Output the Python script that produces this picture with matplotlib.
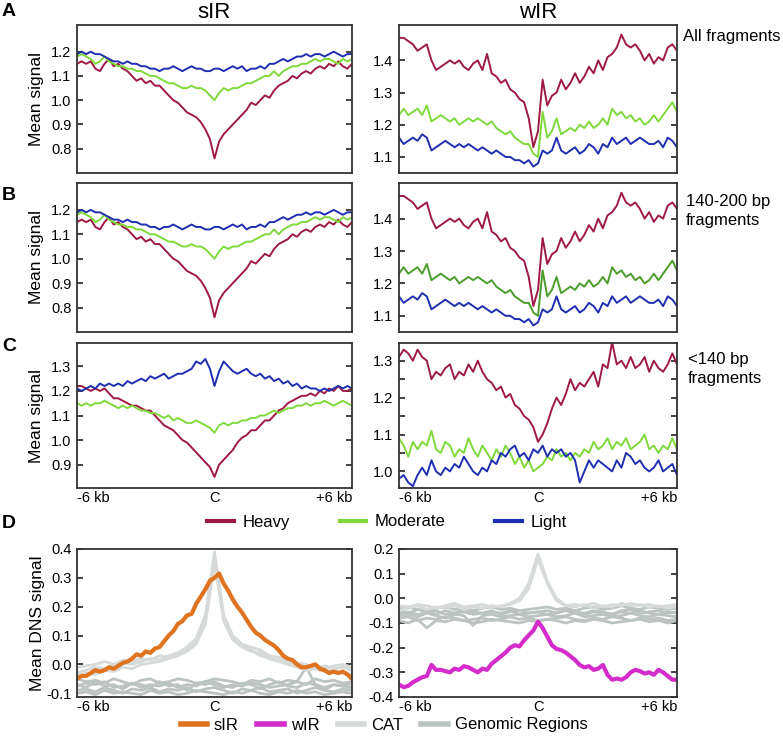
import numpy as np
import matplotlib.pyplot as plt
from matplotlib.lines import Line2D

plt.rcParams['font.family'] = ['Liberation Sans', 'DejaVu Sans']

# ---- colours
c_heavy = '#9e1a44'
c_mod = '#80d93b'
c_mod_dark = '#4c9c2b'
c_light = '#1f2fb0'
c_sir = '#df7320'
c_wir = '#d42ccb'
c_cat = '#d6dad9'
c_gen = '#bcc4c2'

# ---- sIR, all fragments (same profiles in row B)
sir_heavy = [1.15, 1.16, 1.15, 1.16, 1.13, 1.12, 1.15, 1.17, 1.14, 1.15, 1.13, 1.12, 1.10, 1.08, 1.09, 1.07,
             1.08, 1.06, 1.06, 1.04, 1.02, 1.00, 0.99, 0.97, 0.95, 0.94, 0.93, 0.91, 0.88, 0.84, 0.76,
             0.83, 0.86, 0.88, 0.90, 0.92, 0.94, 0.96, 0.99, 0.98, 1.00, 1.02, 1.01, 1.04, 1.06, 1.07,
             1.08, 1.10, 1.09, 1.11, 1.12, 1.11, 1.13, 1.14, 1.13, 1.15, 1.14, 1.16, 1.14, 1.13, 1.15]
sir_mod = [1.18, 1.19, 1.18, 1.17, 1.15, 1.16, 1.18, 1.16, 1.15, 1.14, 1.14, 1.13, 1.13, 1.12, 1.12, 1.11,
           1.10, 1.10, 1.09, 1.08, 1.07, 1.07, 1.06, 1.05, 1.05, 1.06, 1.05, 1.05, 1.04, 1.02, 1.00,
           1.03, 1.05, 1.04, 1.05, 1.05, 1.06, 1.07, 1.07, 1.08, 1.09, 1.10, 1.10, 1.12, 1.10, 1.12,
           1.13, 1.14, 1.14, 1.15, 1.15, 1.16, 1.17, 1.16, 1.17, 1.17, 1.16, 1.15, 1.17, 1.16, 1.17]
sir_light = [1.19, 1.20, 1.19, 1.20, 1.19, 1.19, 1.18, 1.17, 1.16, 1.16, 1.15, 1.16, 1.15, 1.15, 1.14, 1.14,
             1.13, 1.13, 1.12, 1.13, 1.13, 1.14, 1.13, 1.12, 1.13, 1.14, 1.13, 1.13, 1.12, 1.12, 1.13,
             1.13, 1.12, 1.13, 1.14, 1.13, 1.14, 1.12, 1.13, 1.13, 1.14, 1.13, 1.15, 1.15, 1.16, 1.17,
             1.16, 1.17, 1.18, 1.18, 1.19, 1.18, 1.19, 1.19, 1.18, 1.19, 1.20, 1.19, 1.18, 1.19, 1.19]

# ---- wIR, all fragments (same profiles in row B)
wir_heavy = [1.47, 1.47, 1.46, 1.45, 1.43, 1.44, 1.45, 1.40, 1.37, 1.38, 1.39, 1.40, 1.39, 1.40, 1.38, 1.37,
             1.39, 1.40, 1.37, 1.42, 1.36, 1.35, 1.33, 1.34, 1.31, 1.30, 1.28, 1.27, 1.22, 1.13, 1.18,
             1.34, 1.26, 1.29, 1.30, 1.34, 1.31, 1.33, 1.36, 1.33, 1.35, 1.38, 1.36, 1.40, 1.37, 1.41,
             1.42, 1.44, 1.48, 1.45, 1.44, 1.45, 1.43, 1.40, 1.42, 1.39, 1.41, 1.40, 1.44, 1.45, 1.43]
wir_mod = [1.23, 1.25, 1.23, 1.24, 1.25, 1.23, 1.26, 1.21, 1.22, 1.23, 1.22, 1.21, 1.22, 1.20, 1.21, 1.22,
           1.21, 1.22, 1.21, 1.20, 1.21, 1.19, 1.18, 1.17, 1.18, 1.16, 1.15, 1.14, 1.14, 1.11, 1.10,
           1.24, 1.16, 1.18, 1.22, 1.17, 1.18, 1.19, 1.18, 1.20, 1.19, 1.21, 1.19, 1.20, 1.22, 1.20,
           1.25, 1.23, 1.24, 1.22, 1.23, 1.21, 1.22, 1.20, 1.21, 1.23, 1.21, 1.23, 1.25, 1.27, 1.24]
wir_light = [1.16, 1.14, 1.15, 1.16, 1.15, 1.17, 1.16, 1.12, 1.13, 1.14, 1.15, 1.14, 1.13, 1.14, 1.13, 1.14,
             1.13, 1.12, 1.13, 1.12, 1.11, 1.12, 1.11, 1.10, 1.10, 1.09, 1.09, 1.08, 1.09, 1.07, 1.08,
             1.12, 1.11, 1.12, 1.16, 1.12, 1.11, 1.12, 1.13, 1.11, 1.12, 1.14, 1.13, 1.11, 1.14, 1.13,
             1.16, 1.14, 1.15, 1.16, 1.14, 1.15, 1.16, 1.15, 1.14, 1.14, 1.15, 1.13, 1.16, 1.15, 1.13]

# ---- <140 bp fragments
sir_heavy_s = [1.22, 1.22, 1.21, 1.20, 1.21, 1.20, 1.21, 1.19, 1.17, 1.17, 1.16, 1.15, 1.14, 1.14, 1.13, 1.12,
               1.12, 1.10, 1.08, 1.06, 1.05, 1.04, 1.02, 1.00, 0.99, 0.97, 0.95, 0.93, 0.91, 0.89, 0.85,
               0.90, 0.92, 0.94, 0.96, 0.99, 1.01, 1.02, 1.04, 1.04, 1.06, 1.08, 1.08, 1.10, 1.12, 1.13,
               1.15, 1.16, 1.17, 1.18, 1.18, 1.19, 1.18, 1.20, 1.19, 1.21, 1.20, 1.22, 1.20, 1.20, 1.21]
sir_mod_s = [1.15, 1.14, 1.15, 1.14, 1.15, 1.15, 1.16, 1.15, 1.14, 1.13, 1.14, 1.13, 1.14, 1.13, 1.12, 1.12,
             1.11, 1.11, 1.10, 1.09, 1.10, 1.08, 1.09, 1.08, 1.07, 1.07, 1.08, 1.07, 1.06, 1.05, 1.03,
             1.06, 1.07, 1.06, 1.07, 1.07, 1.08, 1.08, 1.09, 1.09, 1.10, 1.10, 1.11, 1.12, 1.11, 1.12,
             1.13, 1.13, 1.14, 1.14, 1.15, 1.14, 1.15, 1.15, 1.16, 1.15, 1.14, 1.15, 1.16, 1.15, 1.14]
sir_light_s = [1.21, 1.20, 1.21, 1.22, 1.21, 1.23, 1.22, 1.23, 1.22, 1.23, 1.22, 1.24, 1.23, 1.24, 1.25, 1.24,
               1.26, 1.25, 1.26, 1.27, 1.25, 1.26, 1.27, 1.27, 1.28, 1.29, 1.32, 1.31, 1.33, 1.29, 1.22,
               1.28, 1.32, 1.30, 1.28, 1.27, 1.28, 1.29, 1.27, 1.26, 1.27, 1.25, 1.26, 1.24, 1.25, 1.23,
               1.24, 1.22, 1.23, 1.21, 1.22, 1.21, 1.21, 1.20, 1.21, 1.20, 1.21, 1.22, 1.21, 1.22, 1.21]
wir_heavy_s = [1.31, 1.33, 1.32, 1.30, 1.33, 1.31, 1.30, 1.25, 1.27, 1.26, 1.28, 1.29, 1.25, 1.27, 1.26, 1.29,
               1.27, 1.30, 1.27, 1.25, 1.24, 1.22, 1.23, 1.20, 1.21, 1.18, 1.17, 1.15, 1.14, 1.12, 1.08,
               1.10, 1.13, 1.17, 1.20, 1.18, 1.21, 1.25, 1.22, 1.24, 1.23, 1.25, 1.27, 1.23, 1.29, 1.28,
               1.35, 1.29, 1.30, 1.28, 1.31, 1.28, 1.29, 1.31, 1.27, 1.30, 1.28, 1.27, 1.29, 1.32, 1.29]
wir_mod_s = [1.09, 1.07, 1.04, 1.08, 1.06, 1.08, 1.07, 1.11, 1.06, 1.05, 1.08, 1.07, 1.04, 1.06, 1.05, 1.09,
             1.06, 1.04, 1.07, 1.05, 1.03, 1.06, 1.04, 1.07, 1.05, 1.02, 1.04, 1.01, 1.03, 1.00, 1.01,
             1.02, 1.04, 1.03, 1.06, 1.04, 1.05, 1.03, 1.05, 1.04, 1.06, 1.05, 1.08, 1.06, 1.07, 1.09,
             1.06, 1.08, 1.07, 1.09, 1.06, 1.07, 1.08, 1.10, 1.06, 1.07, 1.05, 1.07, 1.06, 1.09, 1.06]
wir_light_s = [0.98, 0.99, 0.97, 0.96, 0.99, 1.01, 0.99, 1.03, 1.00, 0.99, 1.01, 1.00, 1.02, 1.01, 1.04, 1.02,
               1.00, 0.99, 1.01, 1.00, 1.03, 1.02, 1.05, 1.04, 1.06, 1.07, 1.04, 1.05, 1.03, 1.06, 1.05,
               1.07, 1.04, 1.06, 1.05, 1.06, 1.04, 1.05, 1.03, 0.97, 1.00, 1.03, 1.01, 1.03, 1.02, 1.01,
               1.00, 1.03, 1.01, 1.05, 1.04, 1.02, 1.03, 1.01, 1.00, 1.01, 1.03, 1.00, 1.01, 1.02, 0.99]

# ---- DNS signal
dns_sir = [-0.05, -0.04, -0.04, -0.03, -0.02, -0.025, -0.02, -0.01, -0.015, -0.005, 0.005, 0.01, 0.02, 0.035,
           0.03, 0.045, 0.04, 0.055, 0.06, 0.08, 0.10, 0.115, 0.14, 0.15, 0.17, 0.175, 0.21, 0.235, 0.26,
           0.29, 0.30, 0.315, 0.28, 0.255, 0.225, 0.20, 0.18, 0.155, 0.13, 0.11, 0.10, 0.085, 0.075, 0.065,
           0.05, 0.03, 0.02, 0.015, 0.0, -0.01, -0.01, -0.005, 0.0, -0.015, -0.02, -0.03, -0.025, -0.03,
           -0.025, -0.035, -0.05]
dns_wir = [-0.35, -0.36, -0.355, -0.34, -0.33, -0.32, -0.315, -0.27, -0.29, -0.29, -0.295, -0.30, -0.285,
           -0.29, -0.275, -0.28, -0.29, -0.30, -0.285, -0.29, -0.265, -0.25, -0.235, -0.22, -0.20, -0.19,
           -0.195, -0.17, -0.15, -0.13, -0.095, -0.12, -0.155, -0.19, -0.205, -0.21, -0.22, -0.235, -0.25,
           -0.27, -0.28, -0.275, -0.29, -0.285, -0.27, -0.31, -0.33, -0.325, -0.33, -0.32, -0.30, -0.29,
           -0.295, -0.305, -0.30, -0.31, -0.29, -0.30, -0.315, -0.33, -0.33]

cat_left = [
    [-0.03, -0.02, -0.01, -0.015, 0.0, 0.005, 0.0, 0.01, 0.02, 0.015, 0.03, 0.04, 0.06, 0.09, 0.17, 0.39,
     0.17, 0.10, 0.07, 0.06, 0.05, 0.03, 0.025, 0.015, 0.005, 0.0, -0.01, -0.005, -0.015, -0.01, -0.02],
    [-0.01, -0.005, 0.0, 0.01, 0.0, 0.015, 0.01, 0.02, 0.015, 0.03, 0.025, 0.035, 0.05, 0.08, 0.16, 0.37,
     0.15, 0.085, 0.06, 0.045, 0.04, 0.02, 0.015, 0.005, -0.005, -0.01, 0.0, -0.015, -0.005, 0.0, -0.01],
    [-0.04, -0.03, -0.035, -0.02, -0.025, -0.01, -0.015, 0.0, 0.005, 0.01, 0.02, 0.03, 0.045, 0.07, 0.14,
     0.35, 0.16, 0.09, 0.065, 0.05, 0.03, 0.02, 0.01, 0.0, -0.01, -0.02, -0.015, -0.025, -0.02, -0.03, -0.035],
]
gen_left = [
    [-0.07, -0.08, -0.06, -0.075, -0.07, -0.085, -0.065, -0.07, -0.08, -0.06, -0.075, -0.07, -0.09, -0.065,
     -0.07, -0.06, -0.075, -0.08, -0.065, -0.07, -0.085, -0.07, -0.06, -0.075, -0.08, -0.065, -0.07, -0.09,
     -0.07, -0.075, -0.065],
    [-0.09, -0.085, -0.095, -0.08, -0.09, -0.10, -0.085, -0.09, -0.08, -0.095, -0.085, -0.09, -0.08, -0.095,
     -0.085, -0.08, -0.09, -0.10, -0.085, -0.09, -0.08, -0.095, -0.09, -0.085, -0.10, -0.09, -0.08, -0.09,
     -0.095, -0.085, -0.09],
    [-0.05, -0.06, -0.055, -0.065, -0.05, -0.06, -0.07, -0.055, -0.05, -0.065, -0.06, -0.05, -0.055, -0.065,
     -0.06, -0.05, -0.055, -0.06, -0.07, -0.055, -0.06, -0.05, -0.065, -0.055, -0.06, -0.07, -0.05, -0.06,
     -0.055, -0.065, -0.06],
    [-0.10, -0.095, -0.105, -0.09, -0.10, -0.095, -0.10, -0.105, -0.09, -0.10, -0.095, -0.105, -0.10, -0.09,
     -0.095, -0.10, -0.105, -0.095, -0.10, -0.09, -0.10, -0.105, -0.095, -0.10, -0.09, -0.10, -0.095, -0.105,
     -0.10, -0.095, -0.10],
    [-0.075, -0.065, -0.07, -0.06, -0.08, -0.075, -0.065, -0.08, -0.07, -0.075, -0.065, -0.08, -0.07, -0.075,
     -0.06, -0.07, -0.08, -0.07, -0.075, -0.065, -0.07, -0.08, -0.075, -0.07, -0.06, -0.01, -0.07, -0.08,
     -0.07, -0.075, -0.08],
]
cat_right = [
    [-0.05, -0.04, -0.03, -0.045, -0.035, -0.04, -0.03, -0.045, -0.035, -0.04, -0.03, -0.035, -0.02, 0.0,
     0.06, 0.18, 0.07, 0.0, -0.03, -0.035, -0.025, -0.04, -0.03, -0.035, -0.02, -0.03, -0.025, -0.035, -0.03,
     -0.04, -0.035],
    [-0.03, -0.035, -0.025, -0.03, -0.04, -0.03, -0.02, -0.035, -0.03, -0.025, -0.035, -0.03, -0.025, -0.01,
     0.04, 0.16, 0.06, -0.01, -0.03, -0.025, -0.03, -0.02, -0.035, -0.025, -0.03, -0.02, -0.03, -0.025,
     -0.035, -0.03, -0.025],
]
gen_right = [
    [-0.05, -0.06, -0.045, -0.055, -0.065, -0.05, -0.06, -0.045, -0.055, -0.06, -0.05, -0.065, -0.055, -0.05,
     -0.06, -0.055, -0.05, -0.06, -0.045, -0.055, -0.06, -0.05, -0.055, -0.065, -0.05, -0.045, -0.06, -0.055,
     -0.05, -0.06, -0.055],
    [-0.08, -0.075, -0.09, -0.08, -0.085, -0.075, -0.08, -0.09, -0.085, -0.08, -0.09, -0.085, -0.075, -0.085,
     -0.08, -0.09, -0.085, -0.08, -0.075, -0.085, -0.09, -0.08, -0.085, -0.075, -0.08, -0.09, -0.08, -0.085,
     -0.08, -0.09, -0.085],
    [-0.07, -0.065, -0.075, -0.06, -0.07, -0.08, -0.065, -0.07, -0.11, -0.07, -0.065, -0.075, -0.07, -0.065,
     -0.075, -0.07, -0.065, -0.075, -0.07, -0.06, -0.075, -0.07, -0.065, -0.075, -0.07, -0.06, -0.07, -0.075,
     -0.065, -0.07, -0.075],
    [-0.04, -0.035, -0.045, -0.05, -0.04, -0.035, -0.045, -0.04, -0.05, -0.04, -0.035, -0.045, -0.04, -0.05,
     -0.045, -0.04, -0.035, -0.045, -0.04, -0.05, -0.04, -0.035, -0.045, -0.04, -0.03, -0.04, -0.045, -0.035,
     -0.04, -0.045, -0.04],
    [-0.09, -0.10, -0.085, -0.12, -0.09, -0.095, -0.085, -0.09, -0.10, -0.095, -0.085, -0.09, -0.095, -0.10,
     -0.09, -0.095, -0.085, -0.09, -0.10, -0.09, -0.095, -0.085, -0.09, -0.10, -0.095, -0.09, -0.085, -0.095,
     -0.09, -0.10, -0.09],
    [-0.06, -0.055, -0.065, -0.06, -0.05, -0.065, -0.06, -0.055, -0.065, -0.06, -0.055, -0.06, -0.05, -0.065,
     -0.06, -0.055, -0.065, -0.06, -0.05, -0.06, -0.065, -0.055, -0.06, -0.065, -0.055, -0.06, -0.05, -0.06,
     -0.065, -0.055, -0.06],
]

x_labels = ['-6 kb', 'C', '+6 kb']


def pos(v):
    return np.linspace(-6, 6, len(v))


fig = plt.figure(figsize=(7.83, 7.43), dpi=100)
W, H = 783, 743


def make_ax(x0, y0, w, h):
    return fig.add_axes([x0 / W, 1 - (y0 + h) / H, w / W, h / H])


def style(ax, ylim, yticks, xlab=False, minor=None):
    ax.set_xlim(-6, 6)
    ax.set_ylim(*ylim)
    ax.set_yticks(yticks)
    ax.set_yticklabels([f'{t:.1f}' for t in yticks])
    if minor is not None:
        ax.set_yticks(minor, minor=True)
    ax.tick_params(axis='y', which='both', direction='in', left=True, right=True, length=4, width=1.2,
                   labelsize=10.5, pad=4, color='#222222')
    for s in ax.spines.values():
        s.set_linewidth(1.3)
        s.set_color('#333333')
    if xlab:
        ax.set_xticks([-6, 0, 6])
        ax.set_xticklabels(x_labels)
        ax.tick_params(axis='x', length=0, labelsize=10.5, pad=2)
        lbls = ax.get_xticklabels()
        lbls[0].set_ha('left')
        lbls[2].set_ha('right')
    else:
        ax.set_xticks([])


L_X, L_W = 77, 275
R_X, R_W = 399, 278
rows = [(25, 148), (183, 149), (343, 145), (549, 148)]
lw = 1.4
ylab_fs = 12.5

# row A
ax = make_ax(L_X, rows[0][0], L_W, rows[0][1])
ax.plot(pos(sir_heavy), sir_heavy, color=c_heavy, lw=lw)
ax.plot(pos(sir_mod), sir_mod, color=c_mod, lw=lw)
ax.plot(pos(sir_light), sir_light, color=c_light, lw=lw)
style(ax, (0.70, 1.31), [0.8, 0.9, 1.0, 1.1, 1.2])
ax.set_ylabel('Mean signal', fontsize=ylab_fs, labelpad=5)
ax = make_ax(R_X, rows[0][0], R_W, rows[0][1])
ax.plot(pos(wir_heavy), wir_heavy, color=c_heavy, lw=lw)
ax.plot(pos(wir_mod), wir_mod, color=c_mod, lw=lw)
ax.plot(pos(wir_light), wir_light, color=c_light, lw=lw)
style(ax, (1.05, 1.51), [1.1, 1.2, 1.3, 1.4])

# row B
ax = make_ax(L_X, rows[1][0], L_W, rows[1][1])
ax.plot(pos(sir_heavy), sir_heavy, color=c_heavy, lw=lw)
ax.plot(pos(sir_mod), sir_mod, color=c_mod, lw=lw)
ax.plot(pos(sir_light), sir_light, color=c_light, lw=lw)
style(ax, (0.70, 1.31), [0.8, 0.9, 1.0, 1.1, 1.2])
ax.set_ylabel('Mean signal', fontsize=ylab_fs, labelpad=5)
ax = make_ax(R_X, rows[1][0], R_W, rows[1][1])
ax.plot(pos(wir_heavy), wir_heavy, color=c_heavy, lw=lw)
ax.plot(pos(wir_mod), wir_mod, color=c_mod_dark, lw=lw)
ax.plot(pos(wir_light), wir_light, color=c_light, lw=lw)
style(ax, (1.05, 1.51), [1.1, 1.2, 1.3, 1.4])

# row C
ax = make_ax(L_X, rows[2][0], L_W, rows[2][1])
ax.plot(pos(sir_heavy_s), sir_heavy_s, color=c_heavy, lw=lw)
ax.plot(pos(sir_mod_s), sir_mod_s, color=c_mod, lw=lw)
ax.plot(pos(sir_light_s), sir_light_s, color=c_light, lw=lw)
style(ax, (0.805, 1.395), [0.9, 1.0, 1.1, 1.2, 1.3], xlab=True)
ax.set_ylabel('Mean signal', fontsize=ylab_fs, labelpad=5)
ax = make_ax(R_X, rows[2][0], R_W, rows[2][1])
ax.plot(pos(wir_heavy_s), wir_heavy_s, color=c_heavy, lw=lw)
ax.plot(pos(wir_mod_s), wir_mod_s, color=c_mod, lw=lw)
ax.plot(pos(wir_light_s), wir_light_s, color=c_light, lw=lw)
style(ax, (0.955, 1.348), [1.0, 1.1, 1.2, 1.3], xlab=True, minor=[1.05, 1.15, 1.25])

# row D
ax = make_ax(L_X, rows[3][0], L_W, rows[3][1])
for v in gen_left:
    ax.plot(pos(v), v, color=c_gen, lw=2)
for v in cat_left:
    ax.plot(pos(v), v, color=c_cat, lw=2)
ax.plot(pos(dns_sir), dns_sir, color=c_sir, lw=3)
style(ax, (-0.113, 0.40), [-0.1, 0.0, 0.1, 0.2, 0.3, 0.4], xlab=True)
ax.set_ylabel('Mean DNS signal', fontsize=ylab_fs, labelpad=1)
ax = make_ax(R_X, rows[3][0], R_W, rows[3][1])
for v in gen_right:
    ax.plot(pos(v), v, color=c_gen, lw=2)
for v in cat_right:
    ax.plot(pos(v), v, color=c_cat, lw=2)
ax.plot(pos(dns_wir), dns_wir, color=c_wir, lw=3)
style(ax, (-0.40, 0.20), [-0.4, -0.3, -0.2, -0.1, 0.0, 0.1, 0.2], xlab=True)

# column titles, panel letters, row notes
fig.text(214 / W, 1 - 12 / H, 'sIR', fontsize=16, ha='center', va='center')
fig.text(538 / W, 1 - 12 / H, 'wIR', fontsize=16, ha='center', va='center')
for letter, yy in [('A', 12), ('B', 196), ('C', 347), ('D', 524)]:
    fig.text(2 / W, 1 - yy / H, letter, fontsize=14, fontweight='bold', ha='left', va='center')
fig.text(683 / W, 1 - 37 / H, 'All fragments', fontsize=12, ha='left', va='center')
fig.text(686 / W, 1 - 211 / H, '140-200 bp\nfragments', fontsize=12, ha='left', va='center',
         linespacing=1.35)
fig.text(688 / W, 1 - 369 / H, '<140 bp\nfragments', fontsize=12, ha='left', va='center',
         linespacing=1.35)

# legends
h1 = [Line2D([], [], color=c_heavy, lw=3), Line2D([], [], color=c_mod, lw=3),
      Line2D([], [], color=c_light, lw=3)]
fig.legend(h1, ['Heavy', 'Moderate', 'Light'], loc='center', bbox_to_anchor=(387 / W, 1 - 522 / H),
           ncol=3, frameon=False, fontsize=12, handlelength=1.6, columnspacing=3.0, handletextpad=0.5)
h2 = [Line2D([], [], color=c_sir, lw=4), Line2D([], [], color=c_wir, lw=4),
      Line2D([], [], color=c_cat, lw=4), Line2D([], [], color=c_gen, lw=4)]
fig.legend(h2, ['sIR', 'wIR', 'CAT', 'Genomic Regions'], loc='center', bbox_to_anchor=(384 / W, 1 - 725 / H),
           ncol=4, frameon=False, fontsize=12, handlelength=1.6, columnspacing=1.1, handletextpad=0.4)

fig.savefig('out.png', dpi=100)
